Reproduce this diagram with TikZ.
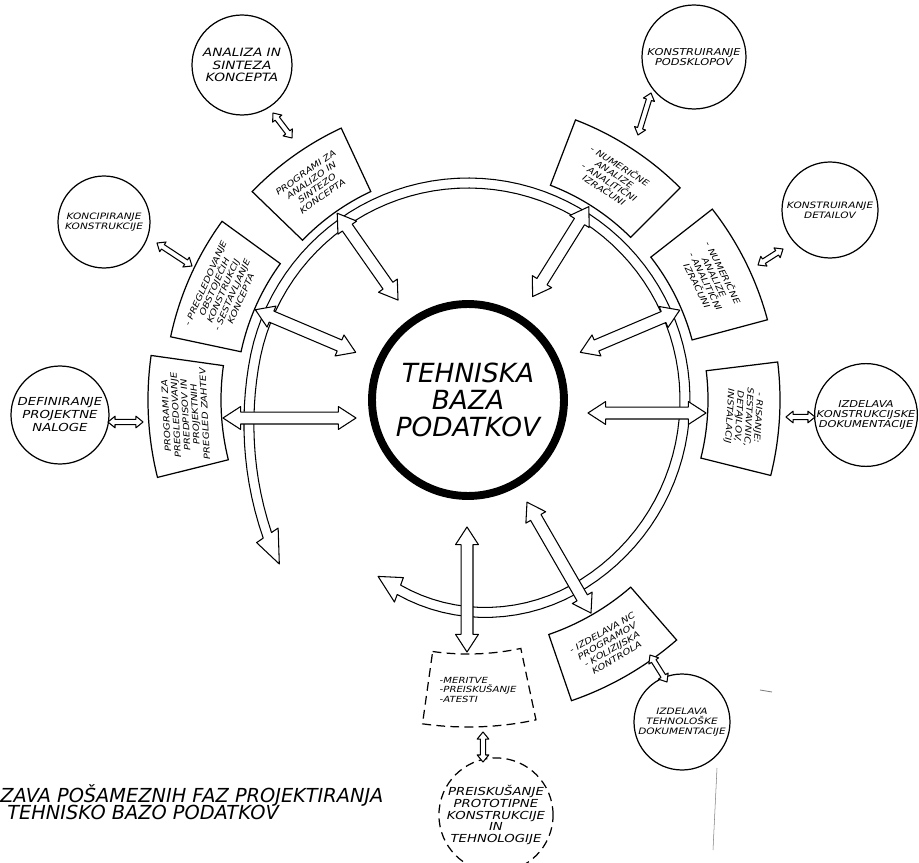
\documentclass[tikz,border=0pt]{standalone}
\usepackage{fontspec}
\newfontfamily\cadfont{DejaVu Sans}[FakeStretch=1.2]
\newfontfamily\cadmain{DejaVu Sans}
\usetikzlibrary{calc}
\usetikzlibrary{positioning}

\tikzset{
  phase/.style={circle, draw, line width=0.7pt, align=center, inner sep=0pt,
    font=\cadfont\itshape\fontsize{5}{5.8}\selectfont},
  bigphase/.style={phase, font=\cadfont\itshape\fontsize{6.3}{7.4}\selectfont},
  baza/.style={circle, draw, line width=4.5pt, minimum size=3.84cm, align=center,
    font=\cadmain\itshape\fontsize{15}{15.5}\selectfont},
  toolbox/.style={line width=0.7pt},
  boxtext/.style={align=center, inner sep=0pt, font=\cadfont\itshape\fontsize{4.8}{5.5}\selectfont},
  blockline/.style={draw, fill=white, line width=0.6pt, line join=round},
  caption/.style={anchor=west, inner sep=0pt, font=\cadmain\itshape\fontsize{11}{11}\selectfont},
  declare function={ringr(\t)=217-15*(max(0,300-\t)/50)^2+25*(max(0,\t-530)/44)^2;},
}

% hollow double headed arrow: from, to, head length, head half width, shaft half width
\newcommand{\blockarrow}[5]{%
  \draw[blockline] (#1) -- ($(#1)!#3!(#2)!#4!90:(#2)$) -- ($(#1)!#3!(#2)!#5!90:(#2)$)
    -- ($(#2)!#3!(#1)!#5!-90:(#1)$) -- ($(#2)!#3!(#1)!#4!-90:(#1)$) -- (#2)
    -- ($(#2)!#3!(#1)!#4!90:(#1)$) -- ($(#2)!#3!(#1)!#5!90:(#1)$)
    -- ($(#1)!#3!(#2)!#5!-90:(#2)$) -- ($(#1)!#3!(#2)!#4!-90:(#2)$) -- cycle;}
\newcommand{\bigarrow}[2]{\blockarrow{#1}{#2}{10pt}{6.5pt}{3.4pt}}
\newcommand{\smallarrow}[2]{\blockarrow{#1}{#2}{4pt}{3.3pt}{1.5pt}}

\begin{document}
\begin{tikzpicture}[x=0.02cm, y=0.02cm]
  \useasboundingbox (-468,-462) rectangle (451,400);
  % ring round the data base, opening out at its ends
  \draw[blockline] plot[domain=250:574, samples=100] (\x:{ringr(\x)+5})
    -- (574:255) -- (581:250) -- (574:229)
    -- plot[domain=574:250, samples=100] (\x:{ringr(\x)-5})
    -- (250:189) -- (243:198) -- (250:215) -- cycle;
  % data base
  \node[baza] (baza) at (0,0) {TEHNISKA\\BAZA\\PODATKOV};
  % tool boxes
  \foreach \a/\b/\ri/\ro in {172/194/247/320, 144/168/232/304, 115/136/230/300,
      45/69/230/300, 15/38/232/310, -14/7/240/312, -71/-49/248/318}
    \draw[toolbox] (\a:\ri) arc[start angle=\a, end angle=\b, radius=\ri]
      -- (\b:\ro) arc[start angle=\b, end angle=\a, radius=\ro] -- cycle;
  \draw[toolbox, dash pattern=on 5pt off 3pt] (-98:254) arc[start angle=-98, end angle=-78, radius=254]
    -- (-78:327) arc[start angle=-78, end angle=-98, radius=327] -- cycle;
  \node[boxtext, rotate=93] (predpisi) at (183:283)
    {PROGRAMI ZA\\PREGLEDOVANJE\\PREDPISOV IN\\PROJEKTNIH\\PREGLED ZAHTEV};
  \node[boxtext, rotate=66] (pregled) at (156:268)
    {- PREGLEDOVANJE\\OBSTOJEČIH\\KONSTRUKCIJ\\- SESTAVLJANJE\\KONCEPTA};
  \node[boxtext, rotate=35.5] (sinteza) at (125.5:265)
    {PROGRAMI ZA\\ANALIZO IN\\SINTEZO\\KONCEPTA};
  \node[boxtext, rotate=-33] (izracuni) at (57:265)
    {- NUMERIČNE\\ANALIZE\\- ANALITIČNI\\IZRAČUNI};
  \node[boxtext, rotate=-63.5] (izracunib) at (26.5:271)
    {- NUMERIČNE\\ANALIZE\\- ANALITIČNI\\IZRAČUNI};
  \node[boxtext, rotate=-93.5] (risanje) at (-3.5:276)
    {- RISANJE:\\SESTAVNIC,\\DETAJLOV,\\INSTALACIJ};
  \node[boxtext, rotate=30] (nc) at (-60:283)
    {- IZDELAVA NC\\PROGRAMOV\\- KOLIZIJSKA\\KONTROLA};
  \node[boxtext, align=left] (meritve) at (-88:290)
    {-MERITVE\\-PREISKUŠANJE\\-ATESTI};
  % phases
  \node[bigphase, minimum size=1.96cm] (naloga) at (-408,-15) {DEFINIRANJE\\PROJEKTNE\\NALOGE};
  \node[phase, minimum size=1.84cm, font=\cadfont\itshape\fontsize{5}{5.4}\selectfont] (koncipiranje) at (-364,178) {KONCIPIRANJE\\KONSTRUKCIJE};
  \node[bigphase, minimum size=2cm, font=\cadfont\itshape\fontsize{6.5}{7.3}\selectfont] (analiza) at (-226,335) {ANALIZA IN\\SINTEZA\\KONCEPTA};
  \node[phase, minimum size=2.08cm, font=\cadfont\itshape\fontsize{5.4}{5.8}\selectfont] (podsklopi) at (226,343) {KONSTRUIRANJE\\PODSKLOPOV};
  \node[phase, minimum size=1.92cm] (detajli) at (362,190) {KONSTRUIRANJE\\DETAILOV};
  \node[phase, minimum size=2cm, font=\cadfont\itshape\fontsize{5.4}{5.8}\selectfont] (dokumentacija) at (398,-15) {IZDELAVA\\KONSTRUKCIJSKE\\DOKUMENTACIJE};
  \node[phase, minimum size=1.92cm] (tehnologija) at (214,-322) {IZDELAVA\\TEHNOLOŠKE\\DOKUMENTACIJE};
  \node[bigphase, minimum size=2cm, dash pattern=on 5pt off 3pt,
    font=\cadfont\itshape\fontsize{6.3}{6.6}\selectfont] (preskus) at (28,-415)
    {PREISKUŠANJE\\PROTOTIPNE\\KONSTRUKCIJE\\IN\\TEHNOLOGIJE};
  % arrows between data base and tools
  \coordinate (bp1) at (-112,-18); \coordinate (tp1) at (-245,-18);
  \coordinate (bp2) at (157:122);  \coordinate (tp2) at (157:231);
  \coordinate (bp3) at (125:122);  \coordinate (tp3) at (125:228);
  \coordinate (bp4) at (58:122);   \coordinate (tp4) at (58:228);
  \coordinate (bp5) at (23:122);   \coordinate (tp5) at (23:230);
  \coordinate (bp6) at (120,-13);  \coordinate (tp6) at (238,-13);
  \coordinate (bp7) at (-60:118);  \coordinate (tp7) at (-60:246);
  \coordinate (bp8) at (-1,-127);  \coordinate (tp8) at (-1,-252);
  \foreach \i in {1,...,8}
    \bigarrow{bp\i}{tp\i};
  % arrows between tools and phases
  \coordinate (ph1) at (-360,-22); \coordinate (ts1) at (-325,-22);
  \coordinate (ph2) at (-311,157); \coordinate (ts2) at (-276,134);
  \coordinate (ph3) at (-195,287); \coordinate (ts3) at (-176,262);
  \coordinate (ph4) at (183,307);  \coordinate (ts4) at (170,265);
  \coordinate (ph5) at (315,151);  \coordinate (ts5) at (290,135);
  \coordinate (ph6) at (347,-17);  \coordinate (ts6) at (318,-17);
  \coordinate (ph7) at (199,-282); \coordinate (ts7) at (182,-255);
  \coordinate (ph8) at (15,-362);  \coordinate (ts8) at (15,-332);
  \foreach \i in {1,...,8}
    \smallarrow{ph\i}{ts\i};
  % caption
  \node[caption] (naslov) at (-468,-395) {ZAVA POŠAMEZNIH FAZ PROJEKTIRANJA};
  \node[caption] (naslovb) at (-461,-412) {TEHNISKO BAZO PODATKOV};
  % stray marks
  \draw[gray, line width=0.5pt] (292,-290) -- (304,-292);
  \draw[gray, line width=0.3pt] (249,-368) -- (245,-450);
\end{tikzpicture}
\end{document}
